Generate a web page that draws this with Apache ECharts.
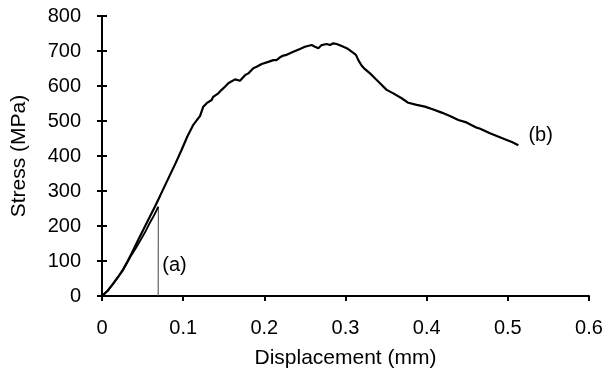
<!DOCTYPE html>
<html><head><meta charset="utf-8">
<script src="https://cdn.jsdelivr.net/npm/echarts@6/dist/echarts.min.js"></script>
<style>html,body{margin:0;padding:0;background:#fff}#c{width:606px;height:376px}</style>
</head><body><div id="c"></div>
<script>
// Curve (b): displacement (mm) and stress (MPa)
var bDisp = [0,0.007,0.014,0.020,0.026,0.031,0.0366,0.045,0.0509,0.058,0.0653,0.0715,0.0838,0.091,0.098,0.105,0.1125,0.1187,0.1207,0.1248,0.129,0.1351,0.137,0.1433,0.1474,0.1515,0.1556,0.1577,0.1639,0.170,0.1762,0.1802,0.1864,0.1905,0.1968,0.2049,0.211,0.215,0.2193,0.2234,0.2275,0.2357,0.2439,0.25,0.2583,0.2624,0.2665,0.2706,0.2768,0.2809,0.285,0.2891,0.2953,0.3015,0.3076,0.3129,0.3158,0.32,0.324,0.3302,0.3363,0.3425,0.3507,0.3589,0.3692,0.3774,0.3877,0.3979,0.4082,0.4185,0.4287,0.439,0.449,0.4616,0.466,0.478,0.4986,0.505,0.513];
var bStress = [0,15,36,55,76,97,122,162,189,222,256,286,346,381,417,455,489,508,514,541,551,560,569,579,589,598,608,603,619,615,631,636,651,655,663,669,674,674,682,687,689,698,706,712,717,712,708,717,720,717,722,720,714,708,698,689,674,658,648,636,622,608,589,579,565,552,546,541,533,524,514,503,496,481,478,465,446,440,431];
// Curve (a)
var aDisp = [0,0.007,0.014,0.020,0.026,0.031,0.036,0.042,0.047,0.053,0.058,0.064,0.0694];
var aStress = [0,15,36,55,74,95,116,138,158,182,205,230,255];
// Fracture drop of (a)
var dropDisp = [0.0694,0.0692];
var dropStress = [255,0];
// Axis ticks
var xTicks = [0,0.1,0.2,0.3,0.4,0.5,0.6];
var yTicks = [0,100,200,300,400,500,600,700,800];

function pairs(xs, ys){ return xs.map(function(x,i){ return [x, ys[i]]; }); }

var FONT = 'Liberation Sans';
var chart = echarts.init(document.getElementById('c'), null, {renderer:'canvas'});
var baseX = {
  type:'value', min:xTicks[0], max:xTicks[xTicks.length-1], interval:0.1,
  splitLine:{show:false}
};
var baseY = {
  type:'value', min:yTicks[0], max:yTicks[yTicks.length-1], interval:100,
  splitLine:{show:false}
};
chart.setOption({
  animation:false,
  backgroundColor:'#fff',
  grid:{left:102, right:17, top:16, bottom:80, containLabel:false},
  xAxis:[
    Object.assign({}, baseX, {
      name:'Displacement (mm)', nameLocation:'middle', nameGap:52,
      nameTextStyle:{fontFamily:FONT, fontSize:21, color:'#000'},
      axisLine:{lineStyle:{color:'#000', width:2}},
      axisTick:{inside:false, length:5, lineStyle:{color:'#000', width:2}},
      axisLabel:{fontFamily:FONT, fontSize:20, color:'#000', margin:22,
        formatter:function(v){ return String(+v.toFixed(1)); }}
    }),
    Object.assign({}, baseX, {
      axisLine:{show:false},
      axisTick:{inside:true, length:5, lineStyle:{color:'#000', width:2}},
      axisLabel:{show:false}
    })
  ],
  yAxis:[
    Object.assign({}, baseY, {
      name:'Stress (MPa)', nameLocation:'middle', nameGap:72,
      nameTextStyle:{fontFamily:FONT, fontSize:21, color:'#000'},
      axisLine:{lineStyle:{color:'#000', width:2}},
      axisTick:{inside:false, length:5, lineStyle:{color:'#000', width:2}},
      axisLabel:{fontFamily:FONT, fontSize:20, color:'#000', margin:21}
    }),
    Object.assign({}, baseY, {
      position:'left',
      axisLine:{show:false},
      axisTick:{inside:true, length:5, lineStyle:{color:'#000', width:2}},
      axisLabel:{show:false}
    })
  ],
  series:[
    {
      type:'line', data:pairs(bDisp,bStress), showSymbol:false, symbol:'none',
      lineStyle:{color:'#000', width:2.2}, z:3,
      endLabel:{show:true, formatter:'(b)', fontFamily:FONT, fontSize:20, color:'#000', distance:10, offset:[0,-10]}
    },
    {
      type:'line', data:pairs(aDisp,aStress), showSymbol:false, symbol:'none',
      lineStyle:{color:'#000', width:1.8}, z:3
    },
    {
      type:'line', data:pairs(dropDisp,dropStress), showSymbol:false, symbol:'none',
      lineStyle:{color:'#444', width:1}, z:2,
      markPoint:{
        symbol:'circle', symbolSize:0,
        data:[{coord:[0.0694, 86]}],
        label:{show:true, position:'right', distance:4, formatter:'(a)', fontFamily:FONT, fontSize:20, color:'#000'}
      }
    }
  ]
});
</script>
</body></html>
